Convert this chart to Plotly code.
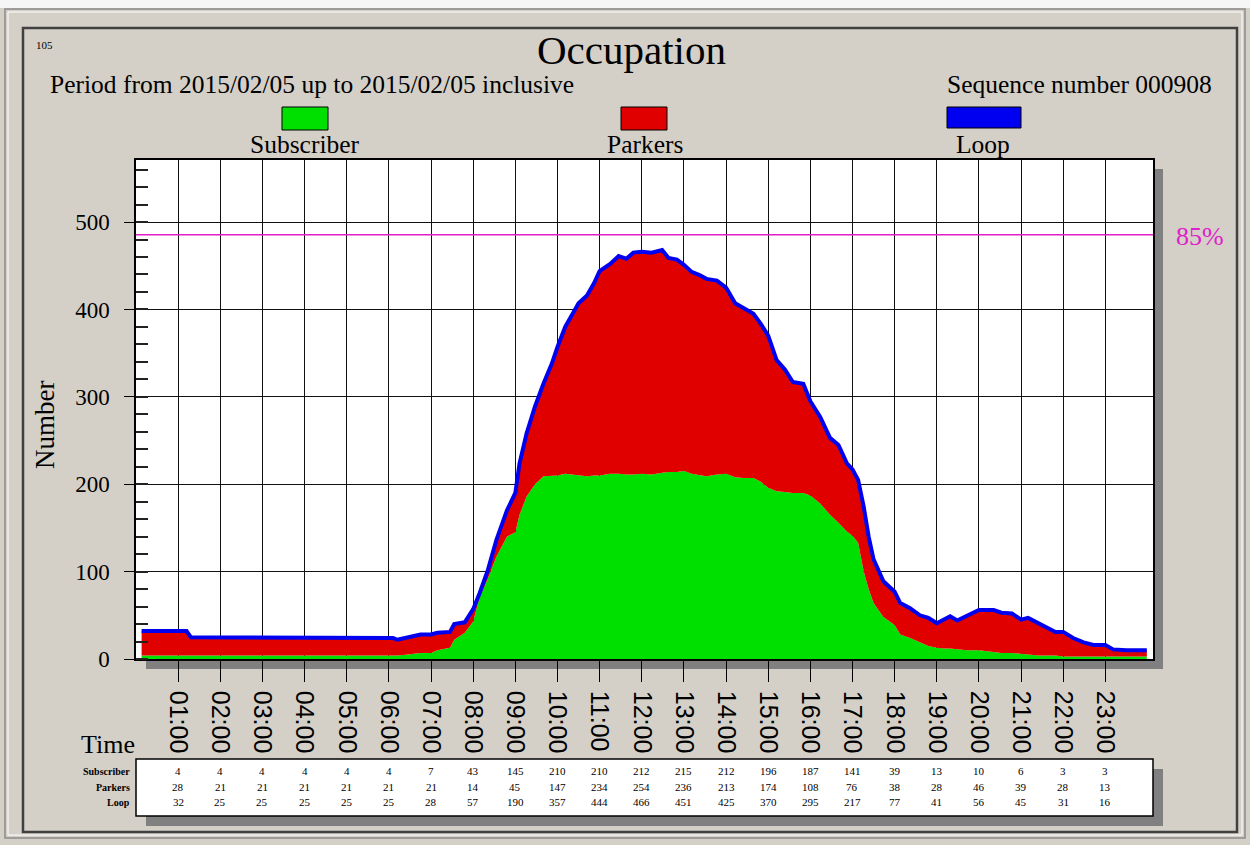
import plotly.graph_objects as go

# ---- occupation series (time of day, vehicles present) ----
times = [
    "00:08", "01:00", "01:12", "01:18", "02:00", "03:00", "04:00", "05:00", "06:00", "06:06",
    "06:12", "06:24", "06:45", "07:00", "07:09", "07:27", "07:33", "07:48", "08:00", "08:09",
    "08:21", "08:33", "08:48", "09:00", "09:06", "09:16", "09:28", "09:40", "09:52", "10:00",
    "10:11", "10:23", "10:30", "10:42", "10:52", "11:00", "11:15", "11:27", "11:38", "11:48",
    "12:00", "12:14", "12:29", "12:38", "12:50", "13:00", "13:11", "13:23", "13:32", "13:47",
    "14:00", "14:13", "14:25", "14:39", "14:49", "15:00", "15:12", "15:24", "15:35", "15:50",
    "16:00", "16:14", "16:28", "16:40", "16:52", "17:00", "17:08", "17:16", "17:23", "17:30",
    "17:44", "18:00", "18:08", "18:22", "18:36", "18:48", "19:00", "19:10", "19:19", "19:29",
    "19:43", "20:00", "20:21", "20:32", "20:47", "21:00", "21:10", "21:25", "21:37", "21:49",
    "22:00", "22:14", "22:29", "22:43", "23:00", "23:11", "23:30", "23:59",
]
loop = [
    32, 32, 32, 25, 25, 25, 25, 25, 25, 24,
    22, 24, 28, 28, 30, 31, 40, 42, 57, 75,
    102, 136, 170, 190, 224, 258, 289, 315, 338, 357,
    380, 397, 407, 416, 430, 444, 452, 461, 458, 465,
    466, 465, 468, 459, 457, 451, 443, 439, 435, 433,
    425, 407, 401, 395, 384, 370, 342, 331, 317, 315,
    295, 277, 253, 245, 224, 217, 205, 174, 140, 114,
    89, 77, 64, 58, 50, 47, 41, 45, 49, 44,
    49, 56, 56, 53, 52, 45, 47, 41, 37, 31,
    31, 24, 19, 16, 16, 11, 10, 10,
]
subscriber = [
    4, 4, 4, 4, 4, 4, 4, 4, 4, 4,
    4, 5, 7, 7, 10, 13, 22, 30, 43, 70,
    92, 117, 140, 145, 165, 186, 200, 209, 210, 210,
    212, 211, 210, 209, 210, 210, 212, 212, 211, 211,
    212, 211, 213, 214, 214, 215, 212, 210, 209, 211,
    212, 208, 207, 207, 203, 196, 192, 191, 190, 190,
    187, 178, 165, 156, 146, 141, 133, 100, 80, 64,
    48, 39, 28, 24, 19, 15, 13, 12, 12, 11,
    10, 10, 8, 7, 7, 6, 6, 4, 4, 4,
    3, 3, 3, 3, 3, 3, 3, 3,
]

# ---- hourly summary table ----
table_hours = list(range(1, 24))
table_labels = ["%02d:00" % h for h in table_hours]
table_subscriber = [4, 4, 4, 4, 4, 4, 7, 43, 145, 210, 210, 212, 215, 212, 196, 187, 141, 39, 13, 10, 6, 3, 3]
table_parkers = [28, 21, 21, 21, 21, 21, 21, 14, 45, 147, 234, 254, 236, 213, 174, 108, 76, 38, 28, 46, 39, 28, 13]
table_loop = [32, 25, 25, 25, 25, 25, 28, 57, 190, 357, 444, 466, 451, 425, 370, 295, 217, 77, 41, 56, 45, 31, 16]

capacity = 571
alarm_level = 0.85

# ---- page geometry (pixels) ----
W, H = 1250, 845
PL, PR, PT, PB = 136, 1153, 160, 659
X_MAX = 24.13

SERIF = "Liberation Serif, Times New Roman, serif"
SANS = "Liberation Sans, Arial, sans-serif"
GREEN, RED, BLUE, MAGENTA = "#00E000", "#E00000", "#0000F0", "#E020C8"
PANEL, SHADOW = "#D4D0C8", "#808080"


def px(x):
    return (x - PL) / (PR - PL)


def py(y):
    return (PB - y) / (PB - PT)


def hx(hour):
    # pixel position of an hour on the time axis
    return PL + (PR - PL) * hour / X_MAX


def to_hours(t):
    h, m = t.split(":")
    return int(h) + int(m) / 60.0


x = [to_hours(t) for t in times]

fig = go.Figure()
fig.add_trace(go.Scatter(
    x=x, y=subscriber, mode="lines", fill="tozeroy", fillcolor=GREEN,
    line=dict(width=0, color=GREEN), name="Subscriber", hoverinfo="x+y"))
fig.add_trace(go.Scatter(
    x=x, y=loop, mode="lines", fill="tonexty", fillcolor=RED,
    line=dict(width=4, color=BLUE), name="Loop", hoverinfo="x+y"))

shapes = []
annotations = []


def rect(x0, y0, x1, y1, fill=None, line=None, lw=0, layer="above"):
    shapes.append(dict(
        type="rect", xref="paper", yref="paper",
        x0=px(x0), x1=px(x1), y0=py(y0), y1=py(y1),
        fillcolor=fill if fill else "rgba(0,0,0,0)",
        line=dict(color=line if line else "rgba(0,0,0,0)", width=lw),
        layer=layer))


def text(s, x0, y0, size, xanchor="center", yanchor="middle", color="black",
         family=SERIF, angle=0):
    annotations.append(dict(
        text=s, xref="paper", yref="paper", x=px(x0), y=py(y0),
        xanchor=xanchor, yanchor=yanchor, showarrow=False, textangle=angle,
        font=dict(family=family, size=size, color=color)))


# window frames
rect(0, 0, W, 8, fill="#F6F6F6", layer="below")
rect(5, 9, 1245, 838, line="#8A8A8A", lw=1.5, layer="below")
rect(8, 12, 1242, 835, line="#FFFFFF", lw=1, layer="below")
rect(23, 28, 1237, 832, line="#404040", lw=2.5, layer="below")

# drop shadow of the plot area
rect(PR, PT + 9, PR + 10, PB + 10, fill=SHADOW, layer="below")
rect(PL + 10, PB, PR + 10, PB + 10, fill=SHADOW, layer="below")

# 85 % capacity line
shapes.append(dict(type="line", xref="paper", yref="y", x0=0, x1=1,
                   y0=capacity * alarm_level, y1=capacity * alarm_level,
                   line=dict(color=MAGENTA, width=1.5), layer="above"))
text("85%", 1200, 236, 26, color=MAGENTA)

# headings
text("105", 34, 45, 11, xanchor="left")
text("Occupation", 631, 50, 41)
text("Period from 2015/02/05 up to 2015/02/05 inclusive", 48, 84, 25.5, xanchor="left")
text("Sequence number 000908", 1214, 84, 25.5, xanchor="right")

# legend swatches
for (x0, x1, y1, col, label, cx) in [
    (282, 328, 130, GREEN, "Subscriber", 305),
    (621, 667, 130, RED, "Parkers", 645),
    (947, 1021, 128, BLUE, "Loop", 983),
]:
    rect(x0, 107, x1, y1, fill=col, line="black", lw=1)
    text(label, cx, 144, 25.5)

# axis titles
text("Number", 45, 425, 27, angle=-90)
text("Time", 108, 744, 26)

# hourly table
rect(PL + 10, 816, PR + 10, 826, fill=SHADOW, layer="below")
rect(PR, 769, PR + 10, 826, fill=SHADOW, layer="below")
rect(PL, 759, PR, 816, fill="white", line="black", lw=1.5, layer="below")
rows = [("Subscriber", table_subscriber, 771), ("Parkers", table_parkers, 787), ("Loop", table_loop, 802)]
for name, vals, ry in rows:
    text("<b>%s</b>" % name, 132, ry, 10, xanchor="right")
    for h, v in zip(table_hours, vals):
        text(str(v), hx(h), ry, 11)

fig.update_layout(
    width=W, height=H,
    margin=dict(l=PL, r=W - PR, t=PT, b=H - PB, pad=0, autoexpand=False),
    paper_bgcolor=PANEL, plot_bgcolor="white",
    showlegend=False, template="none",
    shapes=shapes, annotations=annotations,
    xaxis=dict(
        range=[0, X_MAX], tickmode="array", tickvals=table_hours, ticktext=table_labels,
        tickangle=90, ticks="outside", ticklen=21, tickwidth=1, tickcolor="black",
        ticklabelstandoff=4,
        tickfont=dict(family=SANS, size=25, color="black"),
        showgrid=True, gridcolor="#111111", gridwidth=1, zeroline=False,
        showline=True, linecolor="black", linewidth=1.5, mirror=True, automargin=False,
        fixedrange=True,
    ),
    yaxis=dict(
        range=[0, capacity], tickmode="array", tickvals=[0, 100, 200, 300, 400, 500],
        ticks="outside", ticklen=10, tickwidth=1, tickcolor="black",
        ticklabelstandoff=10,
        tickfont=dict(family=SERIF, size=23, color="black"),
        minor=dict(dtick=20, tick0=0, ticks="inside", ticklen=12, tickwidth=1.5,
                   tickcolor="#222222", showgrid=False),
        showgrid=True, gridcolor="#111111", gridwidth=1, zeroline=False,
        showline=True, linecolor="black", linewidth=1.5, mirror=True, automargin=False,
        fixedrange=True,
    ),
)

fig.write_html("out.html")
